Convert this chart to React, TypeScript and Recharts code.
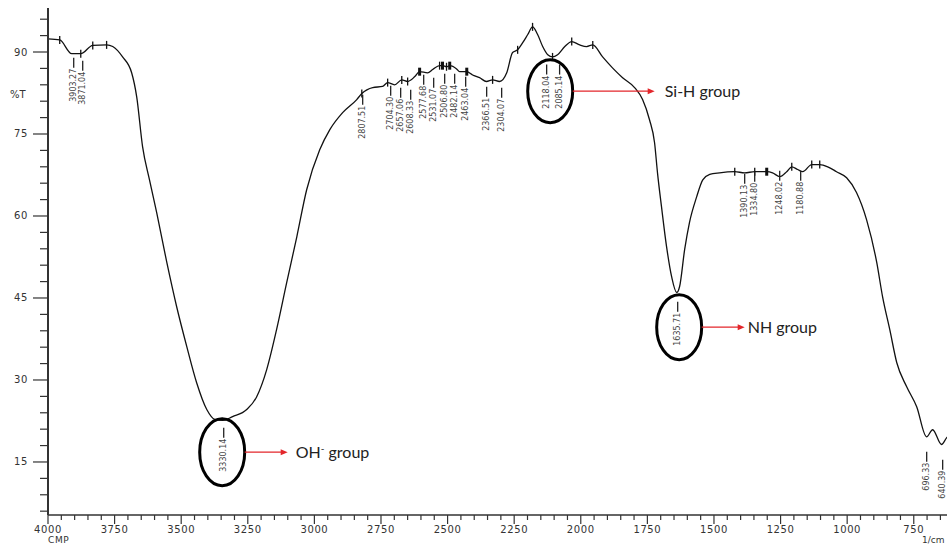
import React from "react";
import { ComposedChart, Line, Scatter, XAxis, YAxis, ReferenceDot } from "recharts";

// ---- spectrum (wavenumber, %T) ----
const wavenumbers = [
  4000, 3956, 3911, 3877, 3832, 3780, 3757, 3720, 3686, 3667, 3645, 3619, 3592, 3554, 3517, 3479, 3442, 3404, 3374, 3344,
  3307, 3254, 3217, 3179, 3142, 3104, 3066, 3029, 2980, 2942, 2894, 2841, 2822, 2781, 2744, 2725, 2699, 2672, 2650, 2623,
  2605, 2575, 2556, 2530, 2519, 2504, 2492, 2466, 2455, 2428, 2406, 2380, 2354, 2331, 2305, 2278, 2256, 2237, 2218, 2199,
  2181, 2162, 2143, 2124, 2106, 2087, 2060, 2034, 2004, 1978, 1955, 1918, 1881, 1843, 1798, 1768, 1742, 1723, 1712, 1697,
  1678, 1659, 1640, 1629, 1610, 1592, 1565, 1542, 1516, 1479, 1422, 1385, 1347, 1302, 1280, 1253, 1227, 1208, 1186, 1167,
  1133, 1103, 1073, 1040, 1002, 965, 927, 889, 867, 840, 814, 777, 739, 702, 679, 646, 627, 600,
];
const transmittance = [
  92.4, 92.2, 89.7, 89.7, 91.2, 91.3, 91.0, 89.1, 86.2, 81.8, 72.7, 66.6, 60.6, 51.5, 43.4, 36.1, 29.5, 24.6, 22.8, 22.6,
  23.3, 24.6, 26.9, 31.9, 39.2, 47.8, 56.2, 64.8, 72.1, 75.8, 78.9, 81.3, 82.4, 83.5, 83.7, 84.4, 84.0, 84.9, 84.6, 85.5,
  86.4, 86.2, 86.8, 87.5, 87.5, 87.3, 87.5, 86.9, 86.4, 86.4, 85.8, 85.3, 84.6, 84.9, 84.6, 86.2, 89.9, 90.4, 91.7, 93.2,
  94.6, 93.2, 91.0, 89.5, 89.1, 89.5, 91.0, 91.9, 91.3, 91.0, 91.3, 89.1, 87.1, 85.3, 83.5, 81.3, 77.6, 73.4, 67.9, 61.7,
  54.4, 48.9, 46.0, 47.1, 53.9, 58.8, 63.5, 66.6, 67.6, 67.9, 68.1, 67.9, 68.1, 68.1, 67.9, 67.2, 68.1, 69.0, 68.5, 68.1,
  69.4, 69.4, 69.0, 68.1, 67.0, 64.3, 59.3, 51.5, 45.2, 39.2, 33.2, 28.8, 25.1, 19.6, 20.9, 18.2, 19.4, 20.5,
];

// ---- peak-pick markers on the curve ----
const markerWn = [3956, 3877, 3832, 3780, 2822, 2725, 2672, 2650, 2605, 2530, 2519, 2504, 2492, 2428, 2331, 2237, 2181, 2106, 2034, 1955, 1422, 1347, 1302, 1208, 1133, 1103];
const markerBold = [2605, 2519, 2492, 2428, 1302];

// ---- peak labels ----
const peakLabels = ["3903.27", "3871.04", "2807.51", "2704.30", "2657.06", "2608.33", "2577.68", "2531.07", "2506.80", "2482.14", "2463.04", "2366.51", "2304.07", "2118.04", "2085.14", "3330.14", "1635.71", "1390.13", "1334.80", "1248.02", "1180.88", "696.33", "640.39"];
const peakPosWn = [3903.5, 3869.7, 2818.7, 2713.6, 2676.1, 2638.5, 2589.7, 2552.2, 2510.9, 2473.4, 2432.1, 2353.3, 2297.0, 2128.1, 2079.5, 3340.4, 1636.2, 1384.7, 1347.1, 1253.3, 1174.5, 701.5, 641.5];
const peakStemT = [88.96, 88.41, 82.19, 83.84, 83.47, 83.1, 85.85, 85.3, 86.03, 86.03, 85.48, 83.65, 83.47, 87.7, 87.7, 21.28, 44.32, 67.73, 68.1, 68.28, 68.28, 16.89, 15.43];

// ---- group annotations ----
const groupNames = ["OH", "Si-H group", "NH group"];
const groupWn = [3346.1, 2114.8, 1630.6];
const groupT = [16.8, 82.83, 39.66];

// ---- axes ----
const xMajorTicks = [4000, 3750, 3500, 3250, 3000, 2750, 2500, 2250, 2000, 1750, 1500, 1250, 1000, 750];
const yMajorTicks = [15, 30, 45, 60, 75, 90];
const X_DOMAIN: [number, number] = [400, 4000];
const Y_DOMAIN: [number, number] = [5.3, 98.05];

const xTicks: number[] = [];
for (let v = 4000; v >= 600; v -= 50) xTicks.push(v);
const yTicks: number[] = [];
for (let v = 6; v <= 96; v += 3) yTicks.push(v);

const data = wavenumbers.map((wn, i) => ({ wn, t: transmittance[i] }));
const markerData = markerWn.map((wn) => ({ wn, t: transmittance[wavenumbers.indexOf(wn)], bold: markerBold.includes(wn) }));
const peakData = peakLabels.map((label, i) => ({ wn: peakPosWn[i], t: peakStemT[i], label }));

const AXIS_COLOR = "#333";
const TICK_FONT = "'DejaVu Sans', sans-serif";

const XTick = (props: any) => {
  const { x, y, payload } = props;
  const v = payload.value;
  const major = xMajorTicks.includes(v) || v % 250 === 0;
  const labelled = xMajorTicks.includes(v);
  return (
    <g>
      <line x1={x} y1={y} x2={x} y2={y + (major ? 9 : 5)} stroke={AXIS_COLOR} strokeWidth={1.2} />
      {labelled && (
        <text x={x} y={y + 18} textAnchor="middle" fontSize={10} fill="#333" fontFamily={TICK_FONT} letterSpacing={0.6}>
          {v}
        </text>
      )}
    </g>
  );
};

const YTick = (props: any) => {
  const { x, y, payload } = props;
  const v = payload.value;
  const major = yMajorTicks.includes(v);
  return (
    <g>
      <line x1={x - (major ? 15 : 8)} y1={y} x2={x} y2={y} stroke={AXIS_COLOR} strokeWidth={1.2} />
      {major && (
        <text x={x - 20} y={y} textAnchor="end" dominantBaseline="central" fontSize={10} fill="#333" fontFamily={TICK_FONT} letterSpacing={0.6}>
          {v}
        </text>
      )}
    </g>
  );
};

const MarkerShape = (props: any) => {
  const { cx, cy, payload } = props;
  if (cx == null || cy == null) return <g />;
  return <line x1={cx} y1={cy - 4} x2={cx} y2={cy + 4} stroke="#111" strokeWidth={payload.bold ? 3 : 1.3} />;
};

const PeakShape = (props: any) => {
  const { cx, cy, payload } = props;
  if (cx == null || cy == null) return <g />;
  const top = cy + 10;
  return (
    <g>
      <line x1={cx} y1={cy} x2={cx} y2={top} stroke="#222" strokeWidth={1.3} />
      <text
        x={cx}
        y={top + 1}
        transform={`rotate(-90 ${cx} ${top + 1})`}
        textAnchor="end"
        dominantBaseline="central"
        fontSize={8}
        fill="#444"
        fontFamily={TICK_FONT}
      >
        {payload.label}
      </text>
    </g>
  );
};

const groupStyle = [
  { rx: 22.5, ry: 33.5, a0: 22.5, a1: 65.5, tx: 73.5, ty: 5.5 },
  { rx: 22.5, ry: 31.5, a0: 22.5, a1: 104.5, tx: 114.5, ty: 6 },
  { rx: 22.5, ry: 32.5, a0: 22.5, a1: 65.5, tx: 68.5, ty: 5.5 },
];

const makeGroupShape = (i: number) => (props: any) => {
  const { cx, cy } = props;
  if (cx == null || cy == null) return <g />;
  const s = groupStyle[i];
  const tip = cx + s.a1;
  return (
    <g>
      <ellipse cx={cx} cy={cy} rx={s.rx} ry={s.ry} fill="none" stroke="#000" strokeWidth={3} />
      <line x1={cx + s.a0} y1={cy} x2={tip - 5} y2={cy} stroke="#e3262b" strokeWidth={1.3} />
      <polygon points={`${tip},${cy} ${tip - 7},${cy - 3} ${tip - 7},${cy + 3}`} fill="#e3262b" />
      <text x={cx + s.tx} y={cy + s.ty} fontSize={16} fill="#222" fontFamily="Lato, 'Open Sans', sans-serif">
        {i === 0 ? (
          <>
            {groupNames[0]}
            <tspan dy={-6} fontSize={10}>-</tspan>
            <tspan dy={6}> group</tspan>
          </>
        ) : (
          groupNames[i]
        )}
      </text>
    </g>
  );
};

export default function App() {
  return (
    <div style={{ position: "absolute", left: 0, top: 0, width: 947, height: 544, overflow: "hidden", background: "#fff" }}>
      <ComposedChart width={1017} height={544} data={data} margin={{ top: 8, right: 10, bottom: 0, left: 0 }}>
        <XAxis
          xAxisId="top"
          orientation="top"
          type="number"
          dataKey="wn"
          domain={X_DOMAIN}
          reversed
          allowDataOverflow
          height={0}
          tick={false}
          tickLine={false}
          axisLine={{ stroke: "#8a8a8a", strokeWidth: 1.5 }}
        />
        <XAxis
          type="number"
          dataKey="wn"
          domain={X_DOMAIN}
          reversed
          allowDataOverflow
          ticks={xTicks}
          interval={0}
          height={29}
          tickSize={0}
          tickMargin={0}
          tickLine={false}
          tick={<XTick />}
          axisLine={{ stroke: AXIS_COLOR, strokeWidth: 1.5 }}
        />
        <YAxis
          type="number"
          dataKey="t"
          domain={Y_DOMAIN}
          allowDataOverflow
          ticks={yTicks}
          interval={0}
          width={48}
          tickSize={0}
          tickMargin={0}
          tickLine={false}
          tick={<YTick />}
          axisLine={{ stroke: AXIS_COLOR, strokeWidth: 2 }}
        />
        <Line type="monotone" dataKey="t" stroke="#111" strokeWidth={1.3} dot={false} isAnimationActive={false} />
        <Scatter data={markerData} dataKey="t" shape={<MarkerShape />} isAnimationActive={false} />
        <Scatter data={peakData} dataKey="t" shape={<PeakShape />} isAnimationActive={false} />
        {groupNames.map((_, i) => (
          <ReferenceDot key={i} x={groupWn[i]} y={groupT[i]} shape={makeGroupShape(i)} />
        ))}
      </ComposedChart>
      <svg width={947} height={544} style={{ position: "absolute", left: 0, top: 0, pointerEvents: "none" }}>
        <text x={10} y={98} fontSize={10} fill="#333" fontFamily={TICK_FONT}>%T</text>
        <text x={48} y={543} fontSize={9} fill="#333" fontFamily={TICK_FONT} letterSpacing={0.6}>CMP</text>
        <text x={922} y={543} fontSize={9} fill="#333" fontFamily={TICK_FONT}>1/cm</text>
      </svg>
    </div>
  );
}
